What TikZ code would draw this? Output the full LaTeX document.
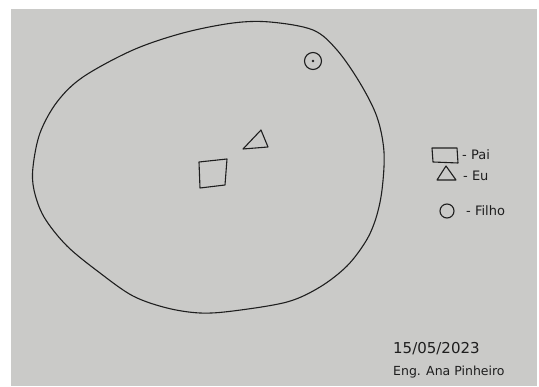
\documentclass[tikz,border=0pt]{standalone}
\usepackage{fontspec}
\setmainfont{DejaVu Sans}
\definecolor{paper}{HTML}{CACAC8}
\definecolor{ink}{HTML}{1E1E1E}
\tikzset{
  pen/.style={draw=ink, line width=1.1pt, line join=round, line cap=round},
  hand/.style={text=ink, font=\fontsize{13}{14}\selectfont, inner sep=0pt, anchor=west}
}
\begin{document}
\begin{tikzpicture}[x=1pt,y=-1pt]
\fill[white] (0,0) rectangle (539,387);
\fill[paper] (11,9) rectangle (537,386);
\useasboundingbox (0,0) rectangle (539,387);
% big closed curve
\draw[pen] plot[smooth cycle, tension=0.55] coordinates {
  (270,22) (313,30) (337,50) (360,83) (377,117) (384,152) (382,190)
  (376,218) (366,241) (347,266) (320,287) (287,302) (233,311) (200,313)
  (167,308) (133,296) (100,273) (67,246) (44,217) (34,190) (33,167)
  (40,133) (57,102) (83,77) (133,50) (183,33) (233,23)};
% circle with dot
\draw[pen] (313,61) circle (8.5);
\fill[ink] (313,61) circle (1.3);
% triangle (Eu)
\draw[pen] (243,149) -- (261,130) -- (268,147) -- cycle;
% square (Pai)
\draw[pen] (199,162) -- (227,159) -- (225,185) -- (200,188) -- cycle;
% legend
\draw[pen] (432,148) -- (457,148) -- (458,163) -- (433,162) -- cycle;
\node[hand] (lpai) at (462,155) {- Pai};
\draw[pen] (437,180) -- (446,166) -- (456,180) -- cycle;
\node[hand] (leu) at (463,176) {- Eu};
\draw[pen] (447,211) circle (7);
\node[hand] (lfilho) at (466,211) {- Filho};
% signature
\node[hand, font=\fontsize{15}{16}\selectfont] (date) at (393,349) {15/05/2023};
\node[hand, font=\fontsize{12.5}{13}\selectfont] (sig) at (393,372) {Eng. Ana Pinheiro};
\end{tikzpicture}
\end{document}
